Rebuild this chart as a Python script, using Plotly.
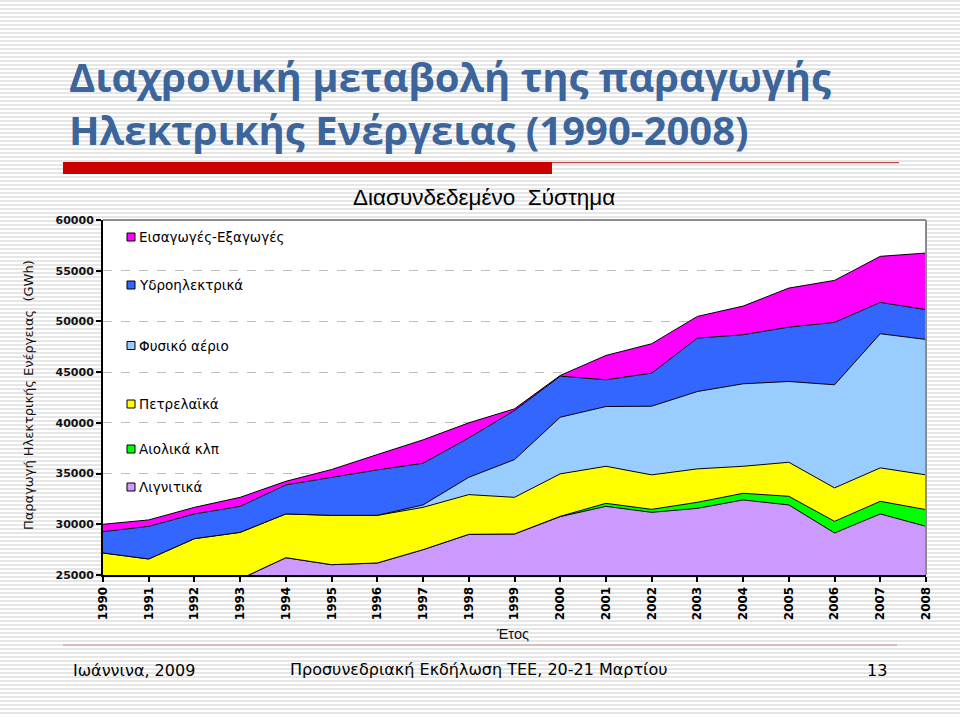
import plotly.graph_objects as go

# ---------------- data ----------------
years = list(range(1990, 2009))
series_names = ["Λιγνιτικά", "Αιολικά κλπ", "Πετρελαϊκά", "Φυσικό αέριο",
                "Υδροηλεκτρικά", "Εισαγωγές-Εξαγωγές"]
lignite = [24300, 24100, 24400, 24600, 26708, 26017, 26184, 27497, 29007, 29047,
           30754, 31771, 31179, 31573, 32402, 31909, 29145, 31021, 29797]
wind = [0, 0, 0, 0, 0, 0, 0, 0, 0, 0,
        30, 296, 296, 593, 652, 849, 1145, 1243, 1648]
oil = [2871, 2479, 4183, 4605, 4313, 4866, 4699, 4175, 3919, 3612,
       4185, 3652, 3395, 3296, 2665, 3356, 3297, 3297, 3425]
gas = [0, 0, 0, 0, 0, 0, 0, 237, 1707, 3721,
       5586, 5892, 6771, 7630, 8133, 7965, 10166, 13226, 13354]
hydro = [2103, 3218, 2438, 2566, 2862, 3767, 4481, 4106, 3889, 4836,
         4047, 2636, 3257, 5260, 4836, 5359, 6149, 3089, 2932]
imports = [726, 632, 651, 888, 355, 750, 1510, 2310, 1480, 168,
           70, 2398, 2902, 2142, 2823, 3849, 4145, 4540, 5586]
y_ticks = [25000, 30000, 35000, 40000, 45000, 50000, 55000, 60000]

series_values = [lignite, wind, oil, gas, hydro, imports]
colors = ["#CC99FF", "#00FF00", "#FFFF00", "#99CCFF", "#3366FF", "#FF00FF"]

# ---------------- geometry ----------------
W, H = 960, 717
L, R, T, B = 103, 926, 220, 575


def px(x):
    return (x - L) / (R - L)


def py(y):
    return (B - y) / (B - T)


fig = go.Figure()
for name, vals, col in zip(series_names, series_values, colors):
    fig.add_trace(go.Scatter(
        x=years, y=vals, name=name, mode="lines", stackgroup="one",
        line=dict(color="black", width=1), fillcolor=col, showlegend=False,
        hoverinfo="x+y+name"))

shapes = []
# striped slide background
path = ""
for yy in range(1, H, 4):
    path += f"M{px(0):.5f},{py(yy):.5f} L{px(W):.5f},{py(yy):.5f} "
shapes.append(dict(type="path", xref="paper", yref="paper", path=path,
                   line=dict(color="#E6E6E6", width=2), layer="below"))
shapes.append(dict(type="rect", xref="paper", yref="paper", x0=0, x1=1, y0=0, y1=1,
                   fillcolor="white", line=dict(width=0), layer="below"))
# red title bars
shapes.append(dict(type="rect", xref="paper", yref="paper", x0=px(63), x1=px(552),
                   y0=py(174), y1=py(162), fillcolor="#CC0000", line=dict(width=0)))
shapes.append(dict(type="line", xref="paper", yref="paper", x0=px(552), x1=px(899),
                   y0=py(162.7), y1=py(162.7), line=dict(color="#B02020", width=1)))
# footer line
shapes.append(dict(type="line", xref="paper", yref="paper", x0=px(63), x1=px(897),
                   y0=py(645), y1=py(645), line=dict(color="#CC9494", width=1.2)))
# plot frame top/right grey
shapes.append(dict(type="line", xref="paper", yref="paper", x0=0, x1=1, y0=1, y1=1,
                   line=dict(color="#8C8C8C", width=2)))
shapes.append(dict(type="line", xref="paper", yref="paper", x0=1, x1=1, y0=0, y1=1,
                   line=dict(color="#8C8C8C", width=2)))

annotations = []
# custom legend
legend_y = {"Εισαγωγές-Εξαγωγές": 237, "Υδροηλεκτρικά": 285, "Φυσικό αέριο": 345.5,
            "Πετρελαϊκά": 404, "Αιολικά κλπ": 449, "Λιγνιτικά": 487}
for name, col in zip(series_names, colors):
    yc = legend_y[name]
    shapes.append(dict(type="rect", xref="paper", yref="paper", x0=px(127), x1=px(135),
                       y0=py(yc + 4), y1=py(yc - 4), fillcolor=col,
                       line=dict(color="black", width=1)))
    annotations.append(dict(xref="paper", yref="paper", x=px(137), y=py(yc), text=name,
                            showarrow=False, xanchor="left", yanchor="middle",
                            font=dict(family="DejaVu Sans", size=13.5, color="black")))

title_font = dict(family="Open Sans", size=40, color="#3B659B", weight="bold")
annotations += [
    dict(xref="paper", yref="paper", x=px(67), y=py(76), text="Διαχρονική μεταβολή της παραγωγής",
         showarrow=False, xanchor="left", yanchor="middle", font=title_font),
    dict(xref="paper", yref="paper", x=px(67), y=py(130), text="Ηλεκτρικής Ενέργειας (1990-2008)",
         showarrow=False, xanchor="left", yanchor="middle", font=title_font),
    dict(xref="paper", yref="paper", x=px(484), y=py(197), text="Διασυνδεδεμένο  Σύστημα",
         showarrow=False, xanchor="center", yanchor="middle",
         font=dict(family="Liberation Sans, Arial", size=22.5, color="black")),
    dict(xref="paper", yref="paper", x=px(28), y=py(395),
         text="Παραγωγή Ηλεκτρικής Ενέργειας  (GWh)", textangle=-90,
         showarrow=False, xanchor="center", yanchor="middle",
         font=dict(family="DejaVu Sans", size=13, color="#111")),
    dict(xref="paper", yref="paper", x=px(512), y=py(634), text="Έτος",
         showarrow=False, xanchor="center", yanchor="middle",
         font=dict(family="Liberation Sans, Arial", size=14.5, color="#111")),
    dict(xref="paper", yref="paper", x=px(71), y=py(670), text="Ιωάννινα, 2009",
         showarrow=False, xanchor="left", yanchor="middle",
         font=dict(family="DejaVu Sans", size=16, color="black")),
    dict(xref="paper", yref="paper", x=px(288), y=py(669), text="Προσυνεδριακή Εκδήλωση ΤΕΕ, 20-21 Μαρτίου",
         showarrow=False, xanchor="left", yanchor="middle",
         font=dict(family="DejaVu Sans", size=16, color="black")),
    dict(xref="paper", yref="paper", x=px(877), y=py(670), text="13",
         showarrow=False, xanchor="center", yanchor="middle",
         font=dict(family="DejaVu Sans", size=16, color="black")),
]

fig.update_layout(
    width=W, height=H,
    margin=dict(l=L, r=W - R, t=T, b=H - B, pad=0),
    paper_bgcolor="white", plot_bgcolor="white",
    shapes=shapes, annotations=annotations, showlegend=False,
    xaxis=dict(range=[1990, 2008], tickvals=years, ticktext=[str(y) for y in years],
               tickangle=-90, ticks="outside", ticklen=5, tickcolor="black", tickwidth=1.5,
               showline=True, linecolor="black", linewidth=2, showgrid=False, zeroline=False,
               tickfont=dict(family="DejaVu Sans", size=12, color="black", weight="bold")),
    yaxis=dict(range=[25000, 60000], tickvals=y_ticks, tickformat="d", ticks="outside",
               ticklen=5, tickcolor="black", tickwidth=1.5, showline=True, linecolor="black",
               linewidth=2, showgrid=True, gridcolor="#BDBDBD", griddash="dash", gridwidth=1,
               zeroline=False,
               tickfont=dict(family="DejaVu Sans", size=11, color="#111", weight="bold")),
)

fig.write_html("out.html", config={"displayModeBar": False},
               post_script="document.body.style.margin='0px';")
